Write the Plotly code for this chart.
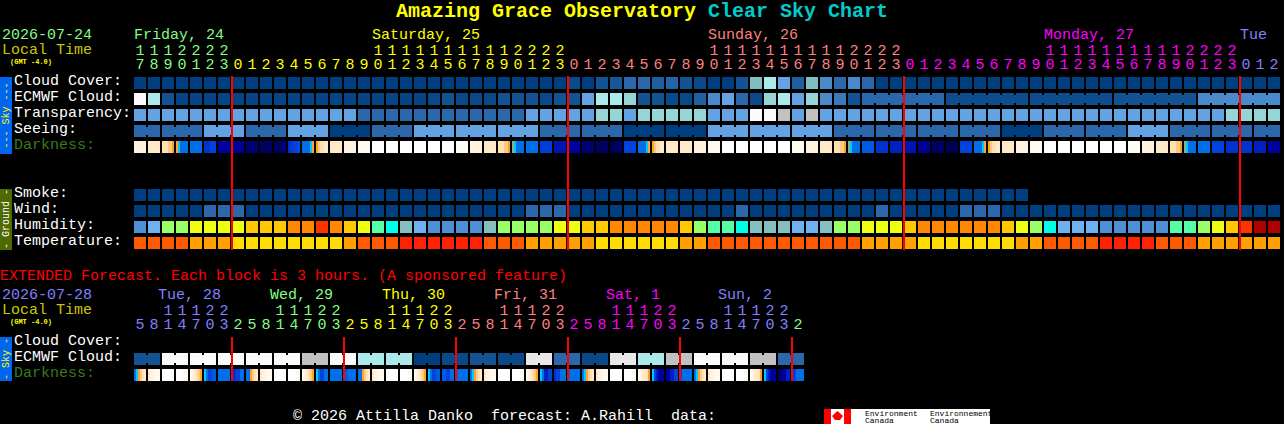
import plotly.graph_objects as go

# ---------- data ----------
cloud_cover = [0]*31 + [.6,0,1,1.2,2,2,1.5,1.8,1,.5,0,0,1,5,7,4,1.5,5,3,2,3, 2] + [0]*29
ecmwf_cloud = [10,7,1,.3,.3,.3,.3,.3,.3,.3,.3,.3,.3,.3,.3,.3,.3,.3,.3,.3,.3,.5,1,.5,.5,.5,1,1,1,.5,1,1,
               4,7,7,6,1,1,.5,.5,1.6,3,4,2,.5,6,7,4,6,3,2.5,1,
               2,2,2,2,2,2,.7,.7,.7,.7,.7,.7,.7,.7,.7,.7,.7,.7,1,1,1,1,1,1,3,3,3,3,3,3]
ecmwf_groups = [1]*52 + [6,6,6,6,6]
transparency = [4]*16 + [2]*12 + [4,4,4,4,4,6,6,4,6,6,6,6,6,4,4,4,10,10,8,4,8,4,4,4] + [4]*26 + [6,6,6,6]
seeing = [2,2, 2,2,2, 4,4,4, 2,2,2, 4,4,4, 0,0,0, 2,2,2, 4,4,4, 4,4,4, 4,4,4, 2,2,2, 2,2,2, 0,0,0, 0,0,0,
          4,4,4, 4,4,4, 4,4,4, 2,2,2, 2,2,2, 2,2,2, 2,2,2, 0,0,0, 2,2,2, 2,2,2, 4,4,4, 2,2,2, 2,2,2, 2,2]
seeing_groups = [2] + [3]*26 + [2]
darkness = [2,3,[4,4,4,5,5,6],[6,7,8,8,8,8],8,[9.5,9.5,9.5,9,9,9],11,11.3,12,12.5,[12.5,12.5,12.5,12,12,11.5],
            [9.6,9.4,9.2,9,9,8.7],[8,8,8,8,7,6],[6,5,4,4,3,3],3,2,1,0,0,0,0,0,0,.7,2,3,[4,4,4,5,5,6],[6.5,7,8,8,8,8],8,
            9.2,10.4,11,12,12.5,[13,13,12.5,12.5,12,12],9,[8,8,8,8,7,6],[6,5,4,4,3,3],3,3,2,1,0,0,0,0,0,
            1,2,3,[4,4,4,5,5,6],[6.5,7,8,8,8,8],8.5,9.5,10,10.4,11.3,12.5,13,9,[8,8,8,8,7,6],[6,5,4,4,3,3],3,2,1,0,0,0,0,0,0,
            .7,2,3,[4,4,4,5,5,6],[6.5,7,8,8,8,8],8,9,9.5,9.5,10,11]
smoke = [0]*64
wind = [0]*5 + [2,2,2] + [0]*20 + [2,2,2] + [0]*12 + [2] + [0]*9 + [2] + [0]*5 + [2,2,2] + [0]*20
humidity = [10,9,5,5,4,4,4,4,3,3,3,2,2,1,2,3,4,6,7,8,9,10,10,10,10,8,5,5,5,5,4,4,3,3,2,2,2,2,2,3,5,6,6,7,8,8,8,9,9,8,5,5,
            4,4,4,3,2,2,2,2,2,2,3,4,5,7,9,9,9,10,10,10,10,10,6,6,5,4,3,1,0,0]
temperature = [1,1,1,1,2,2,2,3,3,3,3,3,3,3,3,2,1,1,1,0,0,0,0,0,0,1,1,1,2,2,2,2,2,3,3,3,3,3,3,2,2,1,1,1,1,1,1,1,1,1,1,1,
               2,2,2,2,3,3,3,3,3,3,3,2,2,1,1,1,1,0,0,0,0,1,1,1,2,2,2,2,2,2]

ext_ecmwf = [1,1,10,10,10,10,10,10,10,10,10,10,8,8,10,10,7,7,7,7,0,0,.5,.5,1,1,.5,.5,9,9,2,2,.5,.5,9,9,7,7,8,8,10,10,10,10,8,8,2,2]
ext_groups = [2]*24
ext_darkness = [[8,7,6,5,4,3],[3,2,2,1,1,1],0,[0,0,0,1,1,1],[1,2,3,4,5,6],[7,8,9,9,8.5,8.5],8,[9.5,9.5,9,9,8,8],
                [8,8,6,5,4,3],[3,2,2,1,1,1],0,[0,0,0,0,1,1],[1,2,3,4,5,6],[7,8,9,9,8,8],8,[8.5,8.5,8,8,8,8],
                [8,8,6,5,4,3],[3,2,2,1,1,1],0,[0,0,0,0,1,1],[1,2,3,4,5,6],[7,8,9,9,8.5,8.5],[8.5,8.5,9,9,8,8],8,
                [8,7,6,5,4,3],[3,2,2,1,1,1],0,[0,0,0,0,1,1],[1,2,3,4,5,6],[7,8,10,10,9,9],[9.5,9,9,8,8,8],8,
                [8,7,6,5,4,3],[3,2,2,1,1,1],0,[0,0,0,0,1,1],[1,2,3,3,4,6],[7,9,10,11,11,11],[11,11,10,10,9,9],[9,8,8,8,8,8],
                [8,7,6,5,4,3],[3,2,2,1,1,1],0,[0,0,0,0,1,1],[1,2,3,3,4,6],[7,9,10,11,11,11],[12,12,11,11,10,10],[9,9,8,8,8,8]]

hours_top = [17,18,19,20,21,22,23] + list(range(24))*3 + [0,1,2]
hours_ext = [5,8,11,14,17,20,23] + [2,5,8,11,14,17,20,23]*5 + [2]
midnights_top = [7,31,55,79]
midnights_ext = [7,15,23,31,39,47]

GREEN, YELLOW, SALMON, MAGENTA, BLUE = "#80ff80", "#ffff00", "#ff8080", "#ff00ff", "#8080ff"
top_colors = [GREEN]*7 + [YELLOW]*24 + [SALMON]*24 + [MAGENTA]*24 + [BLUE]*3
ext_colors = [BLUE]*7 + [GREEN]*8 + [YELLOW]*8 + [SALMON]*8 + [MAGENTA]*8 + [BLUE]*8 + [GREEN]

top_days = [("Friday, 24", 0, GREEN), ("Saturday, 25", 17, YELLOW), ("Sunday, 26", 41, SALMON),
            ("Monday, 27", 65, MAGENTA), ("Tue", 79, BLUE)]
ext_days = [("Tue, 28", BLUE), ("Wed, 29", GREEN), ("Thu, 30", YELLOW), ("Fri, 31", SALMON), ("Sat, 1", MAGENTA), ("Sun, 2", BLUE)]

sky_colors = ["#003f7f","#135393","#2a68ab","#4a8acb","#63a2e3","#7fbfbf","#95d5d5","#aaeaea","#c1c1c1","#e9e9e9","#fbfbfb"]
hum_colors = ["#b00000","#ff3300","#ff8800","#ffc800","#eeff11","#99ff66","#55ffaa","#00ffe8","#85bfbf","#6fb0f2","#4f8fd5"]
temp_colors = ["#ff2200","#ff5a00","#ffa000","#ffdd00"]
dark_colors = ["#ffffff","#fffaf0","#fff3e0","#ffe9c8","#ffe0b0","#ffc880","#ffa030","#00c8ff","#0070e8","#0044dc",
               "#0020c0","#0000a0","#000070","#000050"]

FONT = "Liberation Mono"
CELL_PX, ROW_PX, X0_PX, Y0_PX = 14, 16, 140, 83
W, H = 1284, 424

def y_of(px):
    return (px - Y0_PX) / ROW_PX

def scale(colors):
    n = len(colors) - 1
    return [[i / n, c] for i, c in enumerate(colors)]

fig = go.Figure()

def brick_row(values, row, colors, groups=None):
    cs = scale(colors)
    n = len(colors) - 1
    fig.add_trace(go.Heatmap(x=list(range(len(values))), y=[row], z=[values], colorscale=cs, zmin=0, zmax=n,
                             xgap=2, ygap=4, showscale=False, hoverinfo="skip"))
    if groups:
        link = [None] * len(values)
        i = 0
        for g in groups:
            for k in range(g - 1):
                link[i + k] = values[i + k]
            i += g
        fig.add_trace(go.Heatmap(x=[i + .5 for i in range(len(values))], y=[row], z=[link], colorscale=cs, zmin=0, zmax=n,
                                 xgap=12, ygap=8, showscale=False, hoverinfo="skip"))

def dark_row(values, row):
    xs, zs = [], []
    for i, v in enumerate(values):
        samples = v if isinstance(v, list) else [v] * 6
        for k, s in enumerate(samples):
            xs.append(i + (2 * k - 5) / CELL_PX)
            zs.append(s)
        xs.append(i + 7 / CELL_PX)
        zs.append(None)
    fig.add_trace(go.Heatmap(x=xs, y=[row], z=[zs], colorscale=scale(dark_colors), zmin=0, zmax=len(dark_colors) - 1,
                             ygap=4, showscale=False, hoverinfo="skip"))

brick_row(cloud_cover, 0, sky_colors)
brick_row(ecmwf_cloud, 1, sky_colors, ecmwf_groups)
brick_row(transparency, 2, sky_colors)
brick_row(seeing, 3, sky_colors, seeing_groups)
dark_row(darkness, 4)
brick_row(smoke, 7, sky_colors)
brick_row(wind, 8, sky_colors)
brick_row(humidity, 9, hum_colors)
brick_row(temperature, 10, temp_colors)
brick_row(ext_ecmwf, y_of(359), sky_colors, ext_groups)
dark_row(ext_darkness, y_of(375))

# midnight markers
def midnight_lines(idx, y1, y2):
    xs, ys = [], []
    for m in idx:
        xs += [m - 6 / CELL_PX, m - 6 / CELL_PX, None]
        ys += [y_of(y1), y_of(y2), None]
    fig.add_trace(go.Scatter(x=xs, y=ys, mode="lines", line=dict(color="#ff0000", width=2), hoverinfo="skip", showlegend=False))

midnight_lines(midnights_top, 76, 250)
midnight_lines(midnights_ext, 337, 381)

# hour labels
def hour_row(hours, colors, y_tens, y_units):
    idx = list(range(len(hours)))
    fig.add_trace(go.Scatter(x=idx, y=[y_of(y_units)] * len(hours), mode="text", text=[str(h % 10) for h in hours],
                             textfont=dict(family=FONT, size=15, color=colors), hoverinfo="skip", showlegend=False))
    t = [i for i in idx if hours[i] >= 10]
    fig.add_trace(go.Scatter(x=t, y=[y_of(y_tens)] * len(t), mode="text", text=[str(hours[i] // 10) for i in t],
                             textfont=dict(family=FONT, size=15, color=[colors[i] for i in t]), hoverinfo="skip", showlegend=False))

hour_row(hours_top, top_colors, 51, 65.5)
hour_row(hours_ext, ext_colors, 311, 325.5)

annotations = []
def label(x, y, text, color="#ffffff", size=15, family=FONT, angle=0, anchor="left", bold=False):
    t = f"<b>{text}</b>" if bold else text
    annotations.append(dict(x=x / W, y=1 - y / H, xref="paper", yref="paper", text=t, showarrow=False,
                            xanchor=anchor, yanchor="middle", textangle=angle, borderpad=0, borderwidth=0,
                            font=dict(family=family, size=size, color=color)))

label(396, 12, "Amazing Grace Observatory", "#ffff00", 20, bold=True)
label(708, 12, "Clear Sky Chart", "#00cccc", 20, bold=True)

label(2, 35.5, "2026-07-24", GREEN)
label(2, 50.5, "Local Time", "#c8c800")
label(10, 62, "(GMT -4.0)", "#ffff00", 7, bold=True)
for text, i, c in top_days:
    label(134 + 14 * i, 35.5, text, c)

for text, y, c in [("Cloud Cover:", 81.5, "#ffffff"), ("ECMWF Cloud:", 97.5, "#ffffff"), ("Transparency:", 113.5, "#ffffff"),
                   ("Seeing:", 129.5, "#ffffff"), ("Darkness:", 145.5, "#3a7a1a"), ("Smoke:", 193.5, "#ffffff"),
                   ("Wind:", 209.5, "#ffffff"), ("Humidity:", 225.5, "#ffffff"), ("Temperature:", 241.5, "#ffffff"),
                   ("Cloud Cover:", 341.5, "#ffffff"), ("ECMWF Cloud:", 357.5, "#ffffff"), ("Darkness:", 373.5, "#3a7a1a")]:
    label(14, y, text, c)

label(0, 276.5, "EXTENDED Forecast. Each block is 3 hours. (A sponsored feature)", "#ff0000")
label(2, 295.5, "2026-07-28", BLUE)
label(2, 310.5, "Local Time", "#c8c800")
label(10, 322, "(GMT -4.0)", "#ffff00", 7, bold=True)
for k, (text, c) in enumerate(ext_days):
    label(158 + 112 * k, 295.5, text, c)

label(293, 416, "© 2026 Attilla Danko  forecast: A.Rahill  data:")

label(6, 115.5, "--- Sky ---", "#ffff00", 10, angle=-90, anchor="center")
label(6, 219, "- Ground -", "#ffffff", 10, angle=-90, anchor="center")
label(6, 359, "- Sky -", "#ffff00", 10, angle=-90, anchor="center")

label(865, 413, "Environment", "#000000", 8)
label(865, 420, "Canada", "#000000", 8)
label(930, 413, "Environnement", "#000000", 8)
label(930, 420, "Canada", "#000000", 8)

def rect(x0, y0, x1, y1, color):
    return dict(type="rect", xref="paper", yref="paper", x0=x0 / W, x1=x1 / W, y0=1 - y0 / H, y1=1 - y1 / H,
                fillcolor=color, line_width=0, layer="below")

shapes = [rect(0, 77, 12, 154, "#0066ee"), rect(0, 189, 12, 250, "#4f6a00"), rect(0, 337, 12, 381, "#0066ee"),
          rect(824, 409, 990, 424, "#ffffff"), rect(824, 409, 831, 424, "#ff0000"), rect(844, 409, 851, 424, "#ff0000"),
          dict(type="path", xref="paper", yref="paper", fillcolor="#ff0000", line_width=0, layer="below",
               path="M %f %f L %f %f L %f %f L %f %f L %f %f L %f %f Z" % tuple(
                   v for p in [(837.5, 411), (843, 416), (840, 420), (835, 420), (832, 416), (837.5, 411)]
                   for v in (p[0] / W, 1 - p[1] / H)))]

fig.update_layout(width=W, height=H, margin=dict(l=0, r=0, t=0, b=0, pad=0), paper_bgcolor="#000000", plot_bgcolor="rgba(0,0,0,0)",
                  showlegend=False, annotations=annotations, shapes=shapes,
                  xaxis=dict(range=[-X0_PX / CELL_PX, (W - X0_PX) / CELL_PX], visible=False, fixedrange=True),
                  yaxis=dict(range=[(H - Y0_PX) / ROW_PX, -Y0_PX / ROW_PX], visible=False, fixedrange=True))

fig.write_html("out.html", config=dict(displayModeBar=False),
               post_script="document.body.style.margin='0';document.body.style.background='black';")
